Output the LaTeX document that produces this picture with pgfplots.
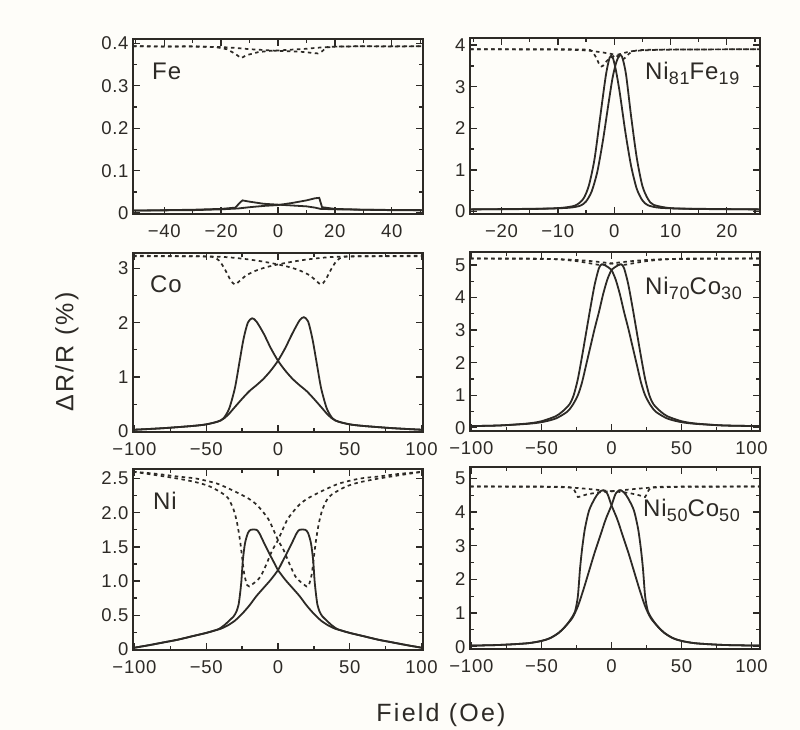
\documentclass[border=0pt]{standalone}
\usepackage{pgfplots}
\pgfplotsset{compat=1.18}
\usepackage{fontspec}
\setmainfont{Liberation Sans}[LetterSpace=4]
\newfontfamily\lblfont{Liberation Sans}[LetterSpace=9]
\definecolor{paper}{RGB}{254,253,249}
\definecolor{ink}{RGB}{45,42,38}
\pgfplotsset{
  panel/.style={
    scale only axis, width=290pt,
    axis background/.style={fill=paper},
    axis line style={line width=2.2pt, ink},
    every tick/.style={line width=1.3pt, ink},
    major tick length=7pt, minor tick length=4pt,
    tick align=inside,
    ticklabel style={font=\fontsize{18.5}{18.5}\selectfont, text=ink},
    /pgf/number format/assume math mode=true,
    xticklabel style={yshift=-7pt},
    yticklabel style={xshift=-1pt},
    clip=true,
  },
  sol/.style={line width=1.8pt, ink, smooth, tension=0.45},
  das/.style={line width=1.7pt, ink, dash pattern=on 3.5pt off 3.5pt, smooth, tension=0.45},
  solp/.style={line width=1.8pt, ink},
  dasp/.style={line width=1.7pt, ink, dash pattern=on 3.5pt off 3.5pt},
  lx/.style={xmin=-101, xmax=101, xtick={-100,-50,0,50,100}, xticklabels={−100,−50,0,50,100}, minor xtick={-75,-25,25,75}},
  rx/.style={xmin=-101, xmax=106, xtick={-100,-50,0,50,100}, xticklabels={−100,−50,0,50,100}, minor xtick={-75,-25,25,75}},
}
\begin{document}
\begin{tikzpicture}[x=1pt,y=1pt]
\fill[paper] (0,0) rectangle (800,730);
\path[use as bounding box] (0,0) rectangle (800,730);

% ---------- Fe ----------
\begin{axis}[panel, at={(133pt,516pt)}, anchor=south west, height=175pt,
  xmin=-51, xmax=51, xtick={-40,-20,0,20,40}, xticklabels={−40,−20,0,20,40},
  minor xtick={-50,-30,-10,10,30,50},
  ymin=-0.002, ymax=0.41, ytick={0,0.1,0.2,0.3,0.4}, yticklabels={0,0.1,0.2,0.3,0.4},
  minor ytick={0.05,0.15,0.25,0.35}]
\addplot[dasp] coordinates {(-51,0.393)(-40,0.392)(-30,0.393)(-22,0.391)(-18,0.386)(-15,0.375)(-13,0.365)(-11,0.372)(-7,0.379)(-3,0.382)(0,0.383)(5,0.385)(10,0.387)(15,0.39)(20,0.392)(30,0.393)(40,0.392)(51,0.393)};
\addplot[dasp] coordinates {(-51,0.393)(-30,0.392)(-20,0.391)(-15,0.389)(-10,0.386)(-5,0.384)(0,0.382)(5,0.381)(10,0.379)(12,0.377)(14,0.376)(15.5,0.381)(17,0.39)(20,0.392)(30,0.393)(51,0.393)};
\addplot[solp] coordinates {(-51,0.006)(-40,0.007)(-30,0.008)(-20,0.01)(-15,0.013)(-13.5,0.024)(-12.5,0.03)(-10,0.027)(-5,0.022)(0,0.02)(5,0.018)(10,0.016)(13,0.013)(15,0.01)(20,0.009)(30,0.008)(40,0.007)(51,0.007)};
\addplot[solp] coordinates {(-51,0.006)(-30,0.007)(-20,0.009)(-14,0.011)(-10,0.014)(-5,0.017)(0,0.019)(5,0.024)(10,0.03)(13,0.035)(14.5,0.036)(15.5,0.014)(20,0.01)(30,0.008)(51,0.007)};
\end{axis}

% ---------- Ni81Fe19 ----------
\begin{axis}[panel, at={(470pt,516pt)}, anchor=south west, height=176pt,
  xmin=-25.6, xmax=25.9, xtick={-20,-10,0,10,20}, xticklabels={−20,−10,0,10,20},
  minor xtick={-25,-15,-5,5,15,25},
  ymin=-0.06, ymax=4.17, ytick={0,1,2,3,4}, minor ytick={0.5,1.5,2.5,3.5}]
\addplot[das] coordinates {(-25.6,3.9)(-10,3.9)(-5,3.89)(-4,3.86)(-3.2,3.7)(-2.5,3.5)(-2,3.5)(-1.3,3.62)(0,3.74)(1.5,3.8)(3,3.85)(5,3.87)(10,3.89)(25.9,3.9)};
\addplot[das] coordinates {(-25.6,3.9)(-10,3.89)(-5,3.87)(-3,3.84)(-1,3.8)(0,3.77)(0.8,3.72)(1.5,3.66)(2,3.7)(2.7,3.8)(4,3.87)(8,3.89)(25.9,3.9)};
\addplot[sol] coordinates {(-25.6,0.05)(-15,0.06)(-10,0.08)(-7,0.14)(-5.5,0.3)(-4.5,0.62)(-3.5,1.25)(-2.5,2.25)(-1.5,3.25)(-0.8,3.7)(-0.3,3.72)(0.3,3.4)(1,2.85)(2,1.9)(3,1.1)(4,0.55)(5,0.27)(6,0.15)(8,0.09)(12,0.07)(18,0.06)(25.9,0.05)};
\addplot[sol] coordinates {(-25.6,0.05)(-18,0.06)(-12,0.07)(-8,0.09)(-6,0.14)(-5,0.24)(-4,0.48)(-3,0.95)(-2,1.7)(-1,2.6)(-0.3,3.2)(0.3,3.55)(0.9,3.75)(1.4,3.72)(2.1,3.3)(3,2.3)(4,1.3)(5,0.62)(6,0.3)(7,0.16)(10,0.08)(15,0.06)(25.9,0.05)};
\end{axis}

% ---------- Co ----------
\begin{axis}[panel, lx, at={(133pt,298pt)}, anchor=south west, height=179pt,
  ymin=-0.01, ymax=3.28, ytick={0,1,2,3}, minor ytick={0.5,1.5,2.5}]
\addplot[das] coordinates {(-101,3.22)(-60,3.22)(-46,3.21)(-41,3.14)(-37,2.98)(-33,2.78)(-30,2.7)(-27,2.76)(-22,2.87)(-15,2.96)(-8,3.02)(0,3.07)(10,3.12)(20,3.16)(30,3.19)(40,3.21)(60,3.22)(101,3.23)};
\addplot[das] coordinates {(-101,3.23)(-60,3.22)(-40,3.21)(-30,3.19)(-20,3.16)(-10,3.12)(0,3.07)(8,3.02)(15,2.96)(22,2.87)(27,2.76)(30,2.7)(33,2.78)(37,2.98)(41,3.14)(46,3.21)(60,3.22)(101,3.22)};
\addplot[sol] coordinates {(-101,0.03)(-80,0.06)(-60,0.1)(-50,0.13)(-42,0.18)(-38,0.24)(-34,0.42)(-30,0.8)(-27,1.25)(-24,1.7)(-21,2.0)(-18,2.08)(-15,2.02)(-10,1.8)(-5,1.53)(0,1.3)(5,1.12)(10,0.97)(15,0.85)(20,0.74)(25,0.6)(30,0.45)(35,0.3)(40,0.2)(50,0.13)(60,0.1)(80,0.06)(101,0.03)};
\addplot[sol] coordinates {(-101,0.03)(-80,0.06)(-60,0.1)(-50,0.13)(-40,0.2)(-35,0.3)(-30,0.45)(-25,0.6)(-20,0.74)(-15,0.85)(-10,0.97)(-5,1.12)(0,1.3)(5,1.53)(10,1.8)(15,2.04)(18,2.1)(21,2.02)(24,1.7)(27,1.25)(30,0.8)(34,0.42)(38,0.24)(42,0.18)(50,0.13)(60,0.1)(80,0.06)(101,0.03)};
\end{axis}

% ---------- Ni70Co30 ----------
\begin{axis}[panel, rx, at={(470pt,299pt)}, anchor=south west, height=179pt,
  ymin=-0.1, ymax=5.4, ytick={0,1,2,3,4,5}, minor ytick={0.5,1.5,2.5,3.5,4.5}]
\addplot[das] coordinates {(-101,5.2)(-60,5.2)(-40,5.18)(-25,5.12)(-15,5.05)(-8,5.0)(-3,5.02)(0,5.05)(10,5.1)(20,5.14)(40,5.18)(106,5.2)};
\addplot[das] coordinates {(-101,5.2)(-40,5.18)(-20,5.14)(-10,5.1)(0,5.05)(3,5.02)(8,5.0)(15,5.05)(25,5.12)(40,5.18)(60,5.2)(106,5.2)};
\addplot[sol] coordinates {(-101,0.05)(-80,0.07)(-60,0.13)(-50,0.2)(-40,0.35)(-35,0.5)(-30,0.72)(-27,1.0)(-24,1.5)(-21,2.2)(-18,2.95)(-15,3.7)(-12,4.4)(-9,4.9)(-7,5.02)(-5,5.0)(-2,4.92)(0,4.85)(3,4.55)(6,4.1)(9,3.55)(12,3.05)(15,2.5)(18,1.95)(21,1.4)(24,1.0)(28,0.68)(32,0.48)(40,0.28)(50,0.17)(60,0.12)(80,0.07)(106,0.05)};
\addplot[sol] coordinates {(-101,0.05)(-80,0.07)(-60,0.12)(-50,0.17)(-40,0.28)(-32,0.48)(-28,0.68)(-24,1.0)(-21,1.4)(-18,1.95)(-15,2.5)(-12,3.05)(-9,3.55)(-6,4.1)(-3,4.55)(0,4.85)(2,4.92)(5,5.0)(7,5.02)(9,4.9)(12,4.4)(15,3.7)(18,2.95)(21,2.2)(24,1.5)(27,1.0)(30,0.72)(35,0.5)(40,0.35)(50,0.2)(60,0.13)(80,0.07)(106,0.05)};
\end{axis}

% ---------- Ni ----------
\begin{axis}[panel, lx, at={(133pt,80pt)}, anchor=south west, height=181pt,
  ymin=-0.01, ymax=2.64, ytick={0,0.5,1,1.5,2,2.5}, yticklabels={0,0.5,1.0,1.5,2.0,2.5},
  minor ytick={0.25,0.75,1.25,1.75,2.25}]
\addplot[das] coordinates {(-101,2.6)(-85,2.55)(-70,2.5)(-60,2.46)(-54,2.43)(-47,2.38)(-40,2.3)(-35,2.22)(-31,2.05)(-28.5,1.85)(-26.5,1.6)(-25,1.35)(-23.5,1.1)(-21.5,0.94)(-20,0.92)(-18,0.95)(-15,1.0)(-12,1.07)(-8,1.25)(-4,1.45)(0,1.6)(6,1.88)(10,2.0)(15,2.12)(20,2.2)(27,2.28)(35,2.36)(43,2.43)(57,2.5)(70,2.53)(85,2.57)(101,2.6)};
\addplot[das] coordinates {(-101,2.6)(-85,2.57)(-70,2.53)(-57,2.5)(-43,2.43)(-35,2.36)(-27,2.28)(-20,2.2)(-15,2.12)(-10,2.0)(-6,1.88)(0,1.6)(4,1.45)(8,1.25)(12,1.07)(15,1.0)(18,0.95)(20,0.92)(21.5,0.94)(23.5,1.1)(25,1.35)(26.5,1.6)(28.5,1.85)(31,2.05)(35,2.22)(40,2.3)(47,2.38)(54,2.43)(60,2.46)(70,2.5)(85,2.55)(101,2.6)};
\addplot[sol] coordinates {(-101,0.02)(-90,0.06)(-80,0.1)(-70,0.14)(-60,0.19)(-50,0.24)(-45,0.27)(-41,0.3)(-37,0.36)(-34,0.42)(-31,0.48)(-29,0.55)(-27.5,0.65)(-26.5,0.8)(-25.5,1.0)(-24.5,1.3)(-23,1.55)(-21,1.7)(-19,1.75)(-15,1.75)(-13,1.7)(-10,1.57)(-6,1.4)(-3,1.28)(0,1.16)(5,1.02)(10,0.9)(15,0.78)(20,0.64)(25,0.52)(30,0.42)(35,0.35)(40,0.3)(45,0.27)(50,0.24)(60,0.19)(70,0.14)(80,0.1)(90,0.06)(101,0.02)};
\addplot[sol] coordinates {(-101,0.02)(-90,0.06)(-80,0.1)(-70,0.14)(-60,0.19)(-50,0.24)(-45,0.27)(-40,0.3)(-35,0.35)(-30,0.42)(-25,0.52)(-20,0.64)(-15,0.78)(-10,0.9)(-5,1.02)(0,1.16)(3,1.28)(6,1.4)(10,1.57)(13,1.7)(15,1.75)(19,1.75)(21,1.7)(23,1.55)(24.5,1.3)(25.5,1.0)(26.5,0.8)(27.5,0.65)(29,0.55)(31,0.48)(34,0.42)(37,0.36)(41,0.3)(45,0.27)(50,0.24)(60,0.19)(70,0.14)(80,0.1)(90,0.06)(101,0.02)};
\end{axis}

% ---------- Ni50Co50 ----------
\begin{axis}[panel, rx, at={(470pt,81pt)}, anchor=south west, height=182pt,
  ymin=-0.07, ymax=5.34, ytick={0,1,2,3,4,5}, minor ytick={0.5,1.5,2.5,3.5,4.5}]
\addplot[das] coordinates {(-101,4.76)(-60,4.76)(-35,4.75)(-28,4.72)(-25.5,4.57)(-24,4.45)(-22,4.47)(-18,4.52)(-10,4.58)(0,4.62)(10,4.66)(20,4.7)(30,4.73)(50,4.75)(106,4.76)};
\addplot[das] coordinates {(-101,4.76)(-50,4.75)(-30,4.73)(-20,4.7)(-10,4.66)(0,4.62)(10,4.58)(18,4.52)(22,4.47)(24,4.45)(25.5,4.57)(28,4.72)(35,4.75)(60,4.76)(106,4.76)};
\addplot[sol] coordinates {(-101,0.03)(-80,0.05)(-60,0.1)(-50,0.17)(-44,0.25)(-38,0.4)(-33,0.6)(-29,0.82)(-26,1.05)(-24,1.5)(-22.5,2.3)(-21,2.9)(-19,3.5)(-16,4.05)(-12,4.4)(-9,4.58)(-6,4.65)(-3,4.55)(0,4.2)(4,3.8)(8,3.3)(12,2.8)(16,2.25)(20,1.7)(24,1.2)(28,0.85)(33,0.6)(38,0.4)(44,0.25)(50,0.17)(60,0.1)(80,0.05)(106,0.03)};
\addplot[sol] coordinates {(-101,0.03)(-80,0.05)(-60,0.1)(-50,0.17)(-44,0.25)(-38,0.4)(-33,0.6)(-28,0.85)(-24,1.2)(-20,1.7)(-16,2.25)(-12,2.8)(-8,3.3)(-4,3.8)(0,4.2)(3,4.55)(6,4.65)(9,4.58)(12,4.4)(16,4.05)(19,3.5)(21,2.9)(22.5,2.3)(24,1.5)(26,1.05)(29,0.82)(33,0.6)(38,0.4)(44,0.25)(50,0.17)(60,0.1)(80,0.05)(106,0.03)};
\end{axis}

% ---------- labels ----------
\begin{scope}[every node/.style={text=ink, inner sep=0pt}]
\node[anchor=base west, font=\fontsize{24}{24}\selectfont] at (152,650) {Fe};
\node[anchor=base west, font=\fontsize{24}{24}\selectfont] at (150,437) {Co};
\node[anchor=base west, font=\fontsize{24}{24}\selectfont] at (153,220) {Ni};
\node[anchor=base west, font=\fontsize{24}{24}\selectfont] at (645,650) {Ni\raisebox{-5pt}{\fontsize{18}{18}\selectfont 81}Fe\raisebox{-5pt}{\fontsize{18}{18}\selectfont 19}};
\node[anchor=base west, font=\fontsize{24}{24}\selectfont] at (645,435) {Ni\raisebox{-5pt}{\fontsize{18}{18}\selectfont 70}Co\raisebox{-5pt}{\fontsize{18}{18}\selectfont 30}};
\node[anchor=base west, font=\fontsize{24}{24}\selectfont] at (643,213) {Ni\raisebox{-5pt}{\fontsize{18}{18}\selectfont 50}Co\raisebox{-5pt}{\fontsize{18}{18}\selectfont 50}};
\node[rotate=90, font=\lblfont\fontsize{25}{25}\selectfont] at (67,378) {ΔR/R (\%)};
\node[anchor=base, font=\lblfont\fontsize{25}{25}\selectfont] at (441,8) {Field (Oe)};
\end{scope}
\end{tikzpicture}
\end{document}
